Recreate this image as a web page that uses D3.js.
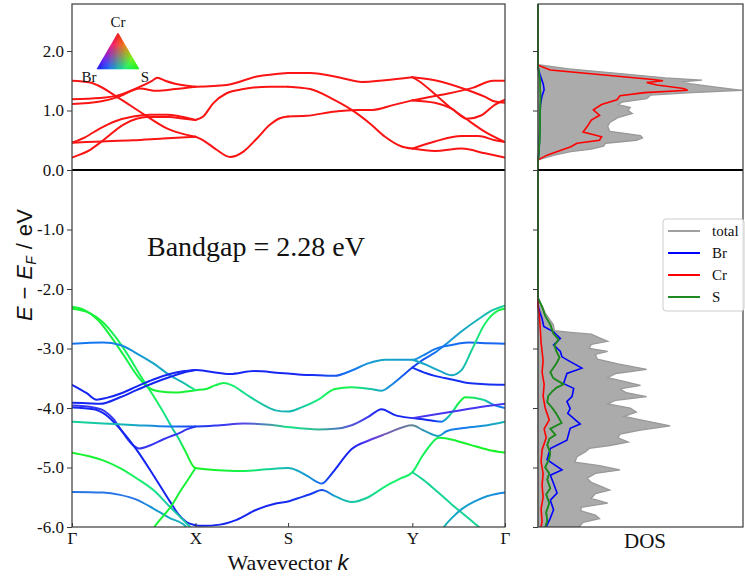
<!DOCTYPE html>
<html>
<head>
<meta charset="utf-8">
<script src="https://cdn.jsdelivr.net/npm/d3@7"></script>
<style>
  body { margin: 0; background: #fff; }
  svg { display: block; }
</style>
</head>
<body>
<svg id="chart" width="745" height="578"></svg>
<script>
// ---- data ----------------------------------------------------------
const kTickLabels = ["Γ", "X", "S", "Y", "Γ"];
const kTickPositions = [0, 0.285, 0.499, 0.786, 1];
const energyTicks = [2, 1, 0, -1, -2, -3, -4, -5, -6];
const bandgapEV = 2.28;

// Conduction bands (Cr d states), pieces of [k, E]
const conductionBands = [
  [[0,1.50],[0.042,1.47],[0.06,1.42],[0.104,1.23],[0.165,0.94],[0.219,0.70],[0.265,0.59],[0.285,0.56]],
  [[0,0.46],[0.07,0.48],[0.14,0.50],[0.21,0.53],[0.285,0.56]],
  [[0,0.46],[0.03,0.55],[0.065,0.70],[0.10,0.82],[0.141,0.90],[0.18,0.93],[0.219,0.93],[0.25,0.90],[0.285,0.84]],
  [[0,0.21],[0.015,0.25],[0.042,0.34],[0.072,0.50],[0.118,0.76],[0.149,0.86],[0.173,0.89],[0.226,0.89],[0.25,0.87],[0.285,0.84]],
  [[0,1.19],[0.065,1.21],[0.104,1.25],[0.157,1.40],[0.185,1.50],[0.197,1.55],[0.215,1.50],[0.238,1.45],[0.285,1.40]],
  [[0,1.11],[0.065,1.15],[0.104,1.22],[0.157,1.37],[0.196,1.33],[0.238,1.36],[0.285,1.40]],
  [[0.285,0.56],[0.303,0.50],[0.334,0.34],[0.365,0.22],[0.396,0.31],[0.427,0.53],[0.457,0.76],[0.480,0.87],[0.499,0.90]],
  [[0.285,0.84],[0.303,0.90],[0.326,1.12],[0.357,1.29],[0.396,1.36],[0.457,1.40],[0.499,1.40]],
  [[0.285,1.40],[0.357,1.43],[0.427,1.57],[0.499,1.63]],
  [[0.499,0.90],[0.542,0.91],[0.603,0.98],[0.658,1.01],[0.695,1.01],[0.741,1.09],[0.786,1.17]],
  [[0.499,1.40],[0.55,1.36],[0.60,1.20],[0.646,1.01],[0.69,0.77],[0.723,0.56],[0.76,0.40],[0.786,0.36]],
  [[0.499,1.63],[0.55,1.63],[0.62,1.55],[0.669,1.48],[0.723,1.51],[0.786,1.56]],
  [[0.786,1.17],[0.850,1.26],[0.925,1.38],[0.973,1.50],[1.0,1.50]],
  [[0.786,1.17],[0.838,1.13],[0.877,1.03],[0.912,0.86],[0.946,0.92],[0.977,1.10],[1.0,1.18]],
  [[0.786,0.36],[0.838,0.48],[0.90,0.57],[0.938,0.57],[0.977,0.50],[1.0,0.47]],
  [[0.786,0.36],[0.838,0.32],[0.90,0.36],[0.954,0.28],[1.0,0.21]],
  [[0.786,1.56],[0.838,1.51],[0.915,1.34],[0.954,1.23],[0.977,1.15],[1.0,1.13]],
  [[0.786,1.56],[0.80,1.50],[0.845,1.23],[0.877,1.03],[0.908,0.87],[0.954,0.64],[1.0,0.47]]
];

// Valence bands: [k, E, S weight, Cr weight]; Br weight is the rest.
// A point without weights keeps the previous ones; S without Cr sets Cr to 0.
const valenceBands = [
  [[0,-2.30,0.9],[0.03,-2.36],[0.06,-2.52],[0.09,-2.80,0.88],[0.12,-3.12,0.85],[0.15,-3.45],[0.175,-3.65,0.88],[0.20,-3.72,0.92],[0.24,-3.74],[0.285,-3.70,0.9],
   [0.31,-3.68,0.88],[0.33,-3.62,0.85],[0.35,-3.58,0.8],[0.37,-3.62,0.72],[0.40,-3.76,0.62],[0.44,-3.94,0.55],[0.47,-4.04,0.5],[0.499,-4.06,0.5],
   [0.53,-3.99,0.55],[0.569,-3.86,0.7],[0.607,-3.68,0.85],[0.646,-3.65,0.8],[0.69,-3.68,0.55],[0.715,-3.71,0.45],[0.74,-3.60,0.35],[0.76,-3.48,0.25],[0.786,-3.32,0.12],
   [0.81,-3.19,0.2],[0.838,-3.07,0.3],[0.87,-2.89,0.4],[0.90,-2.71,0.45],[0.94,-2.50,0.5],[0.97,-2.36,0.55],[1.0,-2.28,0.6]],
  [[0,-2.33,0.9],[0.04,-2.40],[0.07,-2.55,0.88],[0.10,-2.80,0.8],[0.13,-3.12,0.75],[0.16,-3.48,0.8],[0.19,-3.82,0.8],[0.215,-4.12,0.65],[0.235,-4.38,0.55],[0.243,-4.47,0.6],[0.26,-4.70,0.9],[0.285,-5.01,0.95],
   [0.31,-5.03,0.95],[0.35,-5.05,0.9],[0.40,-5.06,0.8],[0.45,-5.03,0.6],[0.499,-5.01,0.5],
   [0.52,-5.05,0.45],[0.545,-5.15,0.4],[0.577,-5.27,0.25],[0.595,-5.15,0.1],[0.607,-5.04,0.05],[0.646,-4.69,0.05],[0.684,-4.55,0.1,0.2],[0.723,-4.44,0.2,0.3],[0.786,-4.29,0.35,0.25],
   [0.81,-4.37,0.4,0.1],[0.846,-4.47,0.45],[0.865,-4.39,0.35],[0.90,-4.34,0.3],[0.95,-4.30,0.4],[1.0,-4.23,0.5]],
  [[0,-2.92,0.3],[0.072,-2.90],[0.111,-2.94,0.35],[0.149,-3.08,0.4],[0.188,-3.25,0.45],[0.226,-3.45],[0.265,-3.61,0.55],[0.285,-3.70,0.7]],
  [[0,-3.61,0.05],[0.034,-3.75],[0.057,-3.86],[0.08,-3.83],[0.111,-3.76],[0.149,-3.64],[0.188,-3.52],[0.226,-3.43],[0.26,-3.38],[0.285,-3.36],
   [0.32,-3.39],[0.365,-3.43],[0.42,-3.38],[0.48,-3.41],[0.499,-3.42],
   [0.53,-3.44],[0.569,-3.45,0.1],[0.607,-3.46,0.2],[0.646,-3.37,0.3],[0.684,-3.25,0.4],[0.723,-3.19,0.45],[0.786,-3.19,0.4],
   [0.81,-3.12,0.35],[0.838,-3.01,0.3],[0.877,-2.94,0.28],[0.915,-2.90,0.25],[0.96,-2.91],[1.0,-2.92]],
  [[0,-3.91,0.05],[0.034,-3.92],[0.065,-3.93],[0.111,-3.82],[0.149,-3.70],[0.188,-3.58],[0.226,-3.48],[0.26,-3.40],[0.285,-3.36]],
  [[0,-3.96,0.1,0.1],[0.05,-3.99],[0.075,-4.05],[0.095,-4.18],[0.118,-4.42],[0.14,-4.62],[0.155,-4.68],[0.18,-4.63],[0.21,-4.53],[0.226,-4.48],[0.245,-4.43],[0.265,-4.36],[0.285,-4.31,0.08]],
  [[0,-3.99,0.05],[0.05,-4.02],[0.075,-4.10],[0.111,-4.35],[0.149,-4.70],[0.188,-5.13],[0.226,-5.57],[0.245,-5.78],[0.265,-5.92],[0.285,-5.97],
   [0.30,-5.98],[0.342,-5.96],[0.38,-5.88],[0.426,-5.71],[0.473,-5.60],[0.499,-5.57,0.08],
   [0.52,-5.52,0.1],[0.55,-5.45],[0.577,-5.38,0.15],[0.607,-5.48,0.45],[0.646,-5.58,0.55],[0.684,-5.50,0.6],[0.723,-5.32,0.7],[0.76,-5.18,0.75],[0.786,-5.08],
   [0.808,-4.82,0.8],[0.83,-4.60],[0.846,-4.50,0.85],[0.87,-4.52,0.9],[0.92,-4.62,0.95],[0.96,-4.70],[1.0,-4.75]],
  [[0,-4.23,0.6],[0.072,-4.26,0.55],[0.149,-4.29,0.45],[0.226,-4.31,0.3],[0.285,-4.31,0.12],
   [0.342,-4.29,0.1,0.1],[0.396,-4.26,0.15,0.2],[0.457,-4.28,0.4,0.15],[0.499,-4.32,0.65],
   [0.569,-4.36,0.5,0.1],[0.607,-4.35,0.35,0.15],[0.646,-4.29,0.2,0.2],[0.684,-4.15,0.1,0.1],[0.715,-4.02,0.05],[0.746,-4.12],[0.786,-4.17],
   [0.81,-4.19],[0.83,-4.21],[0.853,-4.23,0.3],[0.875,-4.10,0.6],[0.895,-3.90,0.85],[0.908,-3.82,0.9],[0.95,-3.86,0.6],[0.975,-3.95,0.35],[1.0,-4.00,0.3]],
  [[0.786,-4.17,0.1,0.15],[0.82,-4.13],[0.87,-4.07],[0.93,-4.00],[1.0,-3.93]],
  [[0.786,-3.19,0.45],[0.82,-3.28],[0.85,-3.38],[0.877,-3.45],[0.9,-3.36,0.5],[0.923,-3.03,0.6],[0.954,-2.58,0.75],[0.985,-2.36,0.85],[1.0,-2.33,0.9]],
  [[0.786,-3.32,0.08],[0.82,-3.42],[0.838,-3.46],[0.877,-3.52],[0.915,-3.58],[0.954,-3.60],[1.0,-3.61]],
  [[0.786,-5.08,0.6],[0.81,-5.20],[0.838,-5.37],[0.877,-5.62],[0.915,-5.85],[0.94,-6.0],[0.96,-6.12]],
  [[0.85,-6.1,0.5],[0.861,-5.98],[0.877,-5.85,0.45],[0.90,-5.70],[0.93,-5.57,0.4],[0.96,-5.48],[1.0,-5.42,0.35]],
  [[0,-4.75,0.95],[0.072,-4.88,0.9],[0.111,-5.01,0.85],[0.149,-5.18,0.75],[0.188,-5.38,0.65],[0.226,-5.66,0.55],[0.265,-5.94],[0.28,-6.05]],
  [[0,-5.41,0.3,0.05],[0.072,-5.42],[0.111,-5.46],[0.149,-5.54],[0.188,-5.69,0.4],[0.226,-5.85,0.45],[0.258,-5.96,0.5],[0.27,-6.05]],
  [[0.185,-6.05,0.9],[0.192,-5.98],[0.21,-5.82],[0.228,-5.66],[0.25,-5.40],[0.27,-5.18],[0.285,-5.01]]
];

// Density of states, [E, DOS]
const dosTotal = [
  [2.79,0],[1.77,0],[1.70,1.5],[1.62,4.0],[1.55,6.2],[1.51,8.0],[1.48,7.0],[1.45,7.4],[1.40,8.5],[1.34,9.95],[1.30,7.5],[1.26,5.5],[1.20,5.3],
  [1.14,4.1],[1.10,3.9],[1.05,4.5],[1.00,4.4],[0.95,4.6],[0.88,3.9],[0.80,3.5],[0.73,3.4],[0.65,3.5],[0.58,5.0],[0.54,5.1],[0.50,4.8],
  [0.45,3.3],[0.40,3.2],[0.35,2.6],[0.31,1.6],[0.25,0.8],[0.20,0.3],[0.17,0],
  [-2.20,0],[-2.28,0.2],[-2.40,0.35],[-2.50,0.55],[-2.60,0.75],[-2.70,0.8],[-2.73,1.6],[-2.76,2.6],[-2.82,3.0],[-2.88,3.4],[-2.93,2.6],
  [-3.00,2.5],[-3.05,3.4],[-3.10,2.8],[-3.18,2.9],[-3.26,3.9],[-3.35,5.3],[-3.42,3.8],[-3.49,3.4],[-3.56,4.3],[-3.62,5.0],[-3.68,4.0],
  [-3.74,4.3],[-3.81,5.3],[-3.87,3.8],[-3.93,3.4],[-4.00,4.5],[-4.07,4.8],[-4.14,4.2],[-4.20,5.0],[-4.30,6.45],[-4.37,5.0],[-4.44,4.0],
  [-4.50,3.9],[-4.57,4.4],[-4.63,3.5],[-4.68,2.5],[-4.74,2.3],[-4.82,1.9],[-4.91,1.8],[-4.97,3.0],[-5.04,4.0],[-5.10,2.8],[-5.18,2.4],
  [-5.25,2.6],[-5.32,3.1],[-5.38,3.5],[-5.44,2.8],[-5.52,2.6],[-5.60,3.4],[-5.67,2.1],[-5.73,2.1],[-5.80,2.8],[-5.86,3.0],[-5.92,2.2],[-6.0,2.0]
];
const dosBr = [
  [2.79,0],[1.72,0],[1.60,0.1],[1.45,0.25],[1.35,0.3],[1.25,0.2],[1.10,0.12],[0.90,0.1],[0.60,0.08],[0.30,0.05],[0.15,0],
  [-2.25,0],[-2.35,0.05],[-2.50,0.2],[-2.63,0.28],[-2.72,0.76],[-2.83,1.09],[-2.94,0.76],[-3.05,1.09],[-3.14,1.17],[-3.22,1.57],
  [-3.33,2.14],[-3.42,1.41],[-3.59,1.25],[-3.67,1.74],[-3.81,1.66],[-3.89,1.41],[-4.01,1.57],[-4.09,1.45],[-4.27,2.06],[-4.34,1.57],
  [-4.54,1.41],[-4.68,0.6],[-4.87,0.44],[-5.04,1.17],[-5.13,0.6],[-5.27,0.76],[-5.43,0.93],[-5.55,0.6],[-5.71,0.76],[-5.85,0.6],[-5.97,0.44],[-6.0,0.4]
];
const dosCr = [
  [2.79,0],[1.76,0],[1.68,0.6],[1.52,5.6],[1.50,6.1],[1.47,5.3],[1.43,5.8],[1.37,7.1],[1.34,7.3],[1.30,5.2],[1.25,4.0],[1.18,3.85],
  [1.10,3.1],[1.01,2.7],[0.92,3.0],[0.84,2.6],[0.73,2.4],[0.64,2.2],[0.56,3.1],[0.50,3.0],[0.45,1.9],[0.39,1.6],[0.25,0.44],[0.17,0],
  [-2.30,0],[-2.40,0.05],[-2.60,0.1],[-2.90,0.15],[-3.20,0.25],[-3.40,0.2],[-3.60,0.3],[-3.80,0.25],[-4.00,0.35],[-4.20,0.55],[-4.35,0.3],
  [-4.50,0.4],[-4.70,0.2],[-4.90,0.15],[-5.10,0.25],[-5.30,0.2],[-5.50,0.25],[-5.70,0.15],[-5.90,0.2],[-6.0,0.15]
];
const dosS = [
  [2.79,0],[1.75,0],[1.50,0.1],[1.20,0.12],[0.90,0.1],[0.50,0.08],[0.20,0.02],[0.10,0],
  [-2.15,0],[-2.30,0.2],[-2.45,0.35],[-2.60,0.6],[-2.75,0.75],[-2.85,1.0],[-2.95,0.8],[-3.05,0.9],[-3.15,1.05],[-3.25,0.9],[-3.40,0.6],
  [-3.50,0.75],[-3.60,1.25],[-3.66,0.9],[-3.72,0.7],[-3.80,0.5],[-3.90,0.45],[-4.00,0.7],[-4.10,0.9],[-4.25,1.15],[-4.35,0.6],[-4.45,0.85],
  [-4.52,0.55],[-4.62,0.45],[-4.75,0.6],[-4.85,0.55],[-5.00,0.35],[-5.10,0.55],[-5.20,0.45],[-5.35,0.6],[-5.45,0.4],[-5.60,0.55],[-5.75,0.4],[-5.90,0.45],[-6.0,0.35]
];
const dosSeries = [
  { name: "Br", data: dosBr, color: "#0000ff" },
  { name: "Cr", data: dosCr, color: "#ff0000" },
  { name: "S",  data: dosS,  color: "#1f8a1f" }
];

// ---- layout --------------------------------------------------------
const serif = "'Liberation Serif', 'Times New Roman', serif";
const sans = "'Liberation Sans', Arial, sans-serif";
const svg = d3.select("#chart");
const mainBox = { left: 72, right: 505, top: 4, bottom: 527 };
const dosBox = { left: 538, right: 743, top: 4, bottom: 527 };

const x = d3.scaleLinear().domain([0, 1]).range([mainBox.left, mainBox.right]);
const y = d3.scaleLinear().domain([-6, 2.79]).range([mainBox.bottom, mainBox.top]);
const xd = d3.scaleLinear().domain([0, 10]).range([dosBox.left, dosBox.right]);

const defs = svg.append("defs");
defs.append("clipPath").attr("id", "clip-main").append("rect")
  .attr("x", mainBox.left).attr("y", mainBox.top)
  .attr("width", mainBox.right - mainBox.left).attr("height", mainBox.bottom - mainBox.top);
defs.append("clipPath").attr("id", "clip-dos").append("rect")
  .attr("x", dosBox.left - 1).attr("y", dosBox.top)
  .attr("width", dosBox.right - dosBox.left + 1).attr("height", dosBox.bottom - dosBox.top);

// projection weights -> colour (R = Cr, G = S, B = Br)
function weightColor(s, cr) {
  const br = Math.max(0, 1 - s - cr);
  const f = v => Math.round(22 + Math.min(1, v * 1.45) * 220);
  return `rgb(${f(cr)},${f(s)},${f(br)})`;
}
function expandBand(band) {
  let s = 0, cr = 0;
  return band.map(p => {
    if (p.length > 2) { s = p[2]; cr = p.length > 3 ? p[3] : 0; }
    return { k: p[0], e: p[1], s, cr };
  });
}

const bandLine = d3.line().x(d => x(d.k)).y(d => y(d.e)).curve(d3.curveMonotoneX);

// ---- band structure ------------------------------------------------
const gBands = svg.append("g").attr("clip-path", "url(#clip-main)");

conductionBands.forEach(band => {
  gBands.append("path")
    .datum(band.map(p => ({ k: p[0], e: p[1] })))
    .attr("d", bandLine)
    .attr("fill", "none")
    .attr("stroke", "rgb(250,20,20)")
    .attr("stroke-width", 2)
    .attr("stroke-linecap", "round");
});

valenceBands.forEach((band, i) => {
  const pts = expandBand(band);
  const k0 = pts[0].k, k1 = pts[pts.length - 1].k;
  const grad = defs.append("linearGradient")
    .attr("id", "vb" + i)
    .attr("gradientUnits", "userSpaceOnUse")
    .attr("x1", x(k0)).attr("x2", x(k1)).attr("y1", 0).attr("y2", 0);
  pts.forEach(p => {
    grad.append("stop")
      .attr("offset", (p.k - k0) / (k1 - k0))
      .attr("stop-color", weightColor(p.s, p.cr));
  });
  gBands.append("path")
    .datum(pts)
    .attr("d", bandLine)
    .attr("fill", "none")
    .attr("stroke", `url(#vb${i})`)
    .attr("stroke-width", 2)
    .attr("stroke-linecap", "round");
});

// Fermi level
svg.append("line")
  .attr("x1", mainBox.left).attr("x2", mainBox.right)
  .attr("y1", y(0)).attr("y2", y(0))
  .attr("stroke", "#000").attr("stroke-width", 2);

// frame
svg.append("rect")
  .attr("x", mainBox.left).attr("y", mainBox.top)
  .attr("width", mainBox.right - mainBox.left).attr("height", mainBox.bottom - mainBox.top)
  .attr("fill", "none").attr("stroke", "#3a3a3a").attr("stroke-width", 1.2);

// axes
const yAxis = svg.append("g")
  .attr("transform", `translate(${mainBox.left},0)`)
  .call(d3.axisLeft(y).tickValues(energyTicks).tickFormat(d => d.toFixed(1)).tickSize(5).tickPadding(3));
yAxis.select(".domain").remove();
yAxis.selectAll("line").attr("stroke", "#3a3a3a");
yAxis.selectAll("text").attr("font-family", serif).attr("font-size", 17).attr("fill", "#111");

const xAxis = svg.append("g")
  .attr("transform", `translate(0,${mainBox.bottom})`)
  .call(d3.axisBottom(x).tickValues(kTickPositions).tickFormat((d, i) => kTickLabels[i]).tickSize(-4).tickPadding(5));
xAxis.select(".domain").remove();
xAxis.selectAll("line").attr("stroke", "#3a3a3a");
xAxis.selectAll("text").attr("font-family", serif).attr("font-size", 17).attr("fill", "#111");

// axis titles
svg.append("text")
  .attr("x", 288).attr("y", 570)
  .attr("text-anchor", "middle")
  .attr("font-family", serif).attr("font-size", 22).attr("fill", "#111")
  .call(t => {
    t.append("tspan").text("Wavevector ");
    t.append("tspan").attr("font-family", sans).attr("font-style", "italic").text("k");
  });

svg.append("text")
  .attr("transform", "translate(32,265) rotate(-90)")
  .attr("text-anchor", "middle")
  .attr("font-family", sans).attr("font-size", 22).attr("fill", "#111")
  .attr("textLength", 112).attr("lengthAdjust", "spacing")
  .call(t => {
    t.append("tspan").attr("font-style", "italic").text("E");
    t.append("tspan").text(" \u2212 ");
    t.append("tspan").attr("font-style", "italic").text("E");
    t.append("tspan").attr("font-style", "italic").attr("font-size", 14).attr("dy", 4).text("F");
    t.append("tspan").attr("dy", -4).text(" / eV");
  });

svg.append("text")
  .attr("x", 147).attr("y", 256)
  .attr("font-family", serif).attr("font-size", 28).attr("fill", "#111")
  .text(`Bandgap = ${bandgapEV.toFixed(2)} eV`);

// projection colour triangle (Cr top, Br left, S right)
const tri = { top: [118, 33], left: [97, 69], right: [139, 69] };
const gTri = svg.append("g");
const N = 18;
function triPoint(a, b) {
  // a: steps toward top, b: steps toward right, from the left vertex
  const u = a / N, v = b / N;
  return [
    tri.left[0] + u * (tri.top[0] - tri.left[0]) + v * (tri.right[0] - tri.left[0]),
    tri.left[1] + u * (tri.top[1] - tri.left[1]) + v * (tri.right[1] - tri.left[1])
  ];
}
for (let a = 0; a < N; a++) {
  for (let b = 0; b < N - a; b++) {
    const cells = [[[a, b], [a + 1, b], [a, b + 1]]];
    if (b < N - a - 1) cells.push([[a + 1, b], [a + 1, b + 1], [a, b + 1]]);
    cells.forEach(c => {
      const ca = (c[0][0] + c[1][0] + c[2][0]) / 3 / N;
      const cb = (c[0][1] + c[1][1] + c[2][1]) / 3 / N;
      const col = weightColor(cb, ca);
      gTri.append("path")
        .attr("d", "M" + c.map(q => triPoint(q[0], q[1]).join(",")).join("L") + "Z")
        .attr("fill", col).attr("stroke", col).attr("stroke-width", 0.6);
    });
  }
}
gTri.append("text").attr("x", 118).attr("y", 27).attr("text-anchor", "middle")
  .attr("font-family", serif).attr("font-size", 15).attr("fill", "#111").text("Cr");
gTri.append("text").attr("x", 89).attr("y", 82).attr("text-anchor", "middle")
  .attr("font-family", serif).attr("font-size", 15).attr("fill", "#111").text("Br");
gTri.append("text").attr("x", 145).attr("y", 82).attr("text-anchor", "middle")
  .attr("font-family", serif).attr("font-size", 15).attr("fill", "#111").text("S");

// ---- density of states ---------------------------------------------
const gDos = svg.append("g").attr("clip-path", "url(#clip-dos)");
gDos.append("path")
  .datum(dosTotal)
  .attr("d", d3.area().y(d => y(d[0])).x0(xd(0)).x1(d => xd(d[1])))
  .attr("fill", "#ababab")
  .attr("stroke", "#999")
  .attr("stroke-width", 1.3);

const dosLine = d3.line().y(d => y(d[0])).x(d => xd(d[1]));
dosSeries.forEach(s => {
  gDos.append("path")
    .datum(s.data)
    .attr("d", dosLine)
    .attr("fill", "none")
    .attr("stroke", s.color)
    .attr("stroke-width", 1.6);
});

svg.append("line")
  .attr("x1", dosBox.left).attr("x2", dosBox.right)
  .attr("y1", y(0)).attr("y2", y(0))
  .attr("stroke", "#000").attr("stroke-width", 2);

svg.append("rect")
  .attr("x", dosBox.left).attr("y", dosBox.top)
  .attr("width", dosBox.right - dosBox.left).attr("height", dosBox.bottom - dosBox.top)
  .attr("fill", "none").attr("stroke", "#3a3a3a").attr("stroke-width", 1.2);

// redraw the S curve over the frame, where it sits at zero
gDos.append("path")
  .datum(dosS)
  .attr("d", dosLine)
  .attr("fill", "none")
  .attr("stroke", "#1f8a1f")
  .attr("stroke-width", 1.6);

const yDos = svg.append("g")
  .attr("transform", `translate(${dosBox.left},0)`)
  .call(d3.axisLeft(y).tickValues(energyTicks).tickFormat("").tickSize(5));
yDos.select(".domain").remove();
yDos.selectAll("line").attr("stroke", "#3a3a3a");

svg.append("text")
  .attr("x", 645).attr("y", 548)
  .attr("text-anchor", "middle")
  .attr("font-family", serif).attr("font-size", 21).attr("fill", "#111")
  .text("DOS");

// legend
const legendItems = [
  { name: "total", color: "#a0a0a0" },
  ...dosSeries.map(s => ({ name: s.name, color: s.color }))
];
const gLeg = svg.append("g");
gLeg.append("rect")
  .attr("x", 663).attr("y", 219).attr("width", 81).attr("height", 92).attr("rx", 3)
  .attr("fill", "#fff").attr("fill-opacity", 0.85)
  .attr("stroke", "#cccccc").attr("stroke-width", 1);
legendItems.forEach((d, i) => {
  const yy = 231 + i * 22;
  gLeg.append("line").attr("x1", 668).attr("x2", 700).attr("y1", yy).attr("y2", yy)
    .attr("stroke", d.color).attr("stroke-width", 2);
  gLeg.append("text").attr("x", 712).attr("y", yy + 5)
    .attr("font-family", serif).attr("font-size", 15).attr("fill", "#111").text(d.name);
});
</script>
</body>
</html>
